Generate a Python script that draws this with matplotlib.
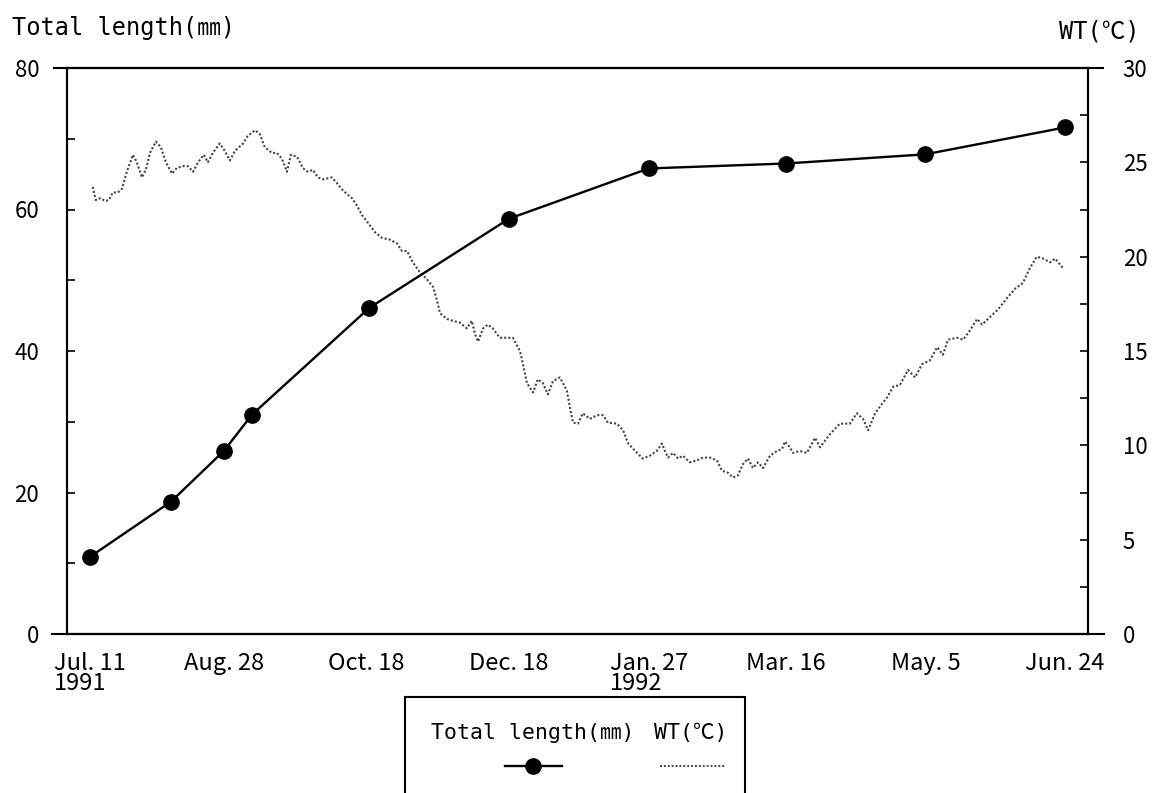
import matplotlib
matplotlib.use('Agg')
import matplotlib.pyplot as plt
from matplotlib.lines import Line2D
from matplotlib.patches import Rectangle

plt.rcParams['font.family'] = ['Noto Sans CJK JP', 'DejaVu Sans']
MONO = ['DejaVu Sans Mono', 'Noto Sans CJK JP']

# days since Jul. 11 1991
length_days = [0, 29, 48, 58, 100, 150, 200, 249, 299, 349]
length_mm = [10.9, 18.7, 25.9, 31.0, 46.1, 58.7, 65.8, 66.5, 67.8, 71.6]

wt_days = [1.0, 2.1, 3.8, 5.4, 6.8, 8.2, 10.0, 11.5, 13.2, 15.4,
           16.8, 18.6, 20.0, 21.5, 23.6, 25.4, 27.2, 29.4, 31.1, 33.3,
           35.1, 36.9, 38.7, 40.8, 42.2, 44.0, 46.5, 48.3, 50.1, 51.9,
           54.8, 56.5, 59.1, 60.8, 62.6, 65.1, 66.9, 68.7, 70.5, 71.9,
           74.1, 76.2, 78.0, 79.8, 81.6, 83.4, 86.6, 88.4, 90.6, 93.8,
           95.6, 97.4, 99.5, 102.0, 104.5, 107.4, 109.9, 111.7, 113.5, 115.2,
           117.4, 120.6, 122.8, 124.2, 125.3, 127.8, 129.9, 132.4, 134.9, 136.7,
           137.8, 138.9, 140.7, 142.4, 144.2, 146.7, 149.2, 151.4, 153.9, 155.0,
           156.4, 158.6, 160.3, 162.1, 163.9, 165.7, 168.2, 170.7, 171.8, 172.9,
           174.7, 176.4, 178.9, 181.5, 183.6, 185.4, 188.6, 190.8, 192.6, 195.8,
           197.9, 200.4, 202.9, 204.7, 205.8, 206.9, 208.7, 210.5, 212.2, 214.7,
           217.3, 219.4, 221.9, 224.4, 226.2, 228.3, 230.1, 231.9, 233.7, 235.5,
           237.3, 239.1, 240.9, 243.4, 245.9, 247.7, 248.7, 250.5, 251.6, 254.1,
           256.6, 259.5, 261.3, 264.9, 268.4, 272.0, 274.5, 276.7, 278.5, 281.0,
           283.5, 285.6, 287.4, 289.9, 292.8, 295.3, 297.8, 300.6, 303.2, 305.3,
           307.1, 310.3, 312.5, 315.0, 317.5, 319.3, 322.1, 325.0, 328.2, 331.1,
           333.9, 336.4, 338.9, 341.1, 343.6, 345.4, 348.2]
wt_c = [23.7, 23.0, 23.1, 22.95, 23.0, 23.4, 23.4, 23.6, 24.5, 25.4,
        25.0, 24.2, 24.6, 25.5, 26.1, 25.8, 25.0, 24.4, 24.7, 24.8,
        24.8, 24.5, 25.0, 25.4, 25.0, 25.5, 26.0, 25.6, 25.1, 25.6,
        26.0, 26.4, 26.7, 26.5, 25.8, 25.5, 25.5, 25.2, 24.5, 25.4,
        25.3, 24.7, 24.5, 24.6, 24.2, 24.1, 24.2, 23.9, 23.5, 23.1,
        22.7, 22.2, 21.8, 21.3, 21.0, 20.9, 20.7, 20.3, 20.3, 19.8,
        19.3, 18.8, 18.4, 17.7, 17.0, 16.7, 16.6, 16.5, 16.2, 16.6,
        15.9, 15.5, 16.2, 16.4, 16.2, 15.7, 15.7, 15.7, 15.0, 14.3,
        13.3, 12.8, 13.5, 13.3, 12.7, 13.4, 13.6, 12.9, 12.0, 11.2,
        11.15, 11.7, 11.4, 11.6, 11.6, 11.2, 11.15, 10.8, 10.1, 9.6,
        9.3, 9.45, 9.7, 10.1, 9.7, 9.35, 9.6, 9.3, 9.45, 9.1,
        9.2, 9.35, 9.35, 9.2, 8.65, 8.55, 8.3, 8.4, 9.0, 9.3,
        8.8, 9.1, 8.8, 9.45, 9.7, 9.8, 10.2, 9.9, 9.6, 9.7,
        9.6, 10.4, 9.9, 10.6, 11.15, 11.15, 11.7, 11.4, 10.8, 11.7,
        12.2, 12.6, 13.1, 13.2, 14.0, 13.6, 14.3, 14.5, 15.2, 14.8,
        15.6, 15.7, 15.6, 16.1, 16.7, 16.4, 16.8, 17.2, 17.8, 18.3,
        18.6, 19.4, 20.0, 19.9, 19.7, 19.9, 19.4]

tick_days = [0, 48, 99, 150, 200, 249, 299, 349]
tick_labels = ['Jul. 11\n1991', 'Aug. 28', 'Oct. 18', 'Dec. 18',
               'Jan. 27\n1992', 'Mar. 16', 'May. 5', 'Jun. 24']

W, H = 1159, 793
fig = plt.figure(figsize=(W / 100, H / 100), dpi=100)
ax = fig.add_axes([67 / W, 1 - 634 / H, (1088 - 67) / W, (634 - 68) / H])
ax2 = ax.twinx()

ax2.plot(wt_days, wt_c, color='#444444', lw=1.5, ls=(0, (1, 1)))
ax.plot(length_days, length_mm, color='black', lw=1.7, marker='o', ms=11)
ax.set_zorder(ax2.get_zorder() + 1)
ax.patch.set_visible(False)

ax.set_xlim(-8.2, 357.2)
ax.set_ylim(0, 80)
ax2.set_ylim(0, 30)
ax.set_yticks([0, 20, 40, 60, 80])
ax.set_yticks([10, 30, 50, 70], minor=True)
ax2.set_yticks([0, 5, 10, 15, 20, 25, 30])
ax2.set_yticks([2.5, 7.5, 12.5, 17.5, 22.5, 27.5], minor=True)
ax.set_xticks(tick_days)
ax.set_xticklabels(tick_labels, multialignment='left', linespacing=0.85)

ax.tick_params(axis='y', which='both', direction='in', length=6, width=1.2,
               labelsize=16, pad=20)
ax2.tick_params(axis='y', which='both', direction='in', length=6, width=1.2,
                labelsize=16, pad=25)
ax.tick_params(axis='x', length=0, labelsize=17, pad=13)
for a in (ax, ax2):
    for s in a.spines.values():
        s.set_linewidth(1.5)

# top / bottom frame lines run a bit past the side spines
for ypx, x0, x1 in [(68, 54, 1103), (634, 52, 1104)]:
    fig.add_artist(Line2D([x0 / W, x1 / W], [1 - ypx / H, 1 - ypx / H],
                          transform=fig.transFigure, color='black', lw=1.5))

fig.text(12 / W, 1 - 28 / H, 'Total length(㎜)', va='center', fontsize=17,
         family=MONO)
fig.text(1140 / W, 1 - 31 / H, 'WT(℃)', ha='right', va='center', fontsize=17,
         family=MONO)

# legend box (cut off at the bottom edge)
fig.add_artist(Rectangle((405 / W, 1 - 805 / H), 340 / W, 108 / H,
                         transform=fig.transFigure, fill=False, lw=1.5,
                         color='black'))
fig.text(533 / W, 1 - 733 / H, 'Total length(㎜)', ha='center', va='center',
         fontsize=15.5, family=MONO)
fig.text(691 / W, 1 - 733 / H, 'WT(℃)', ha='center', va='center',
         fontsize=15.5, family=MONO)
fig.add_artist(Line2D([505 / W, 562 / W], [1 - 766 / H, 1 - 766 / H],
                      transform=fig.transFigure, color='black', lw=1.7))
fig.add_artist(Line2D([533 / W], [1 - 766 / H], transform=fig.transFigure,
                      color='black', marker='o', ms=11, ls='none'))
fig.add_artist(Line2D([660 / W, 725 / W], [1 - 766 / H, 1 - 766 / H],
                      transform=fig.transFigure, color='#444444', lw=1.4,
                      ls=(0, (1, 1))))

fig.savefig('out.png', dpi=100)
